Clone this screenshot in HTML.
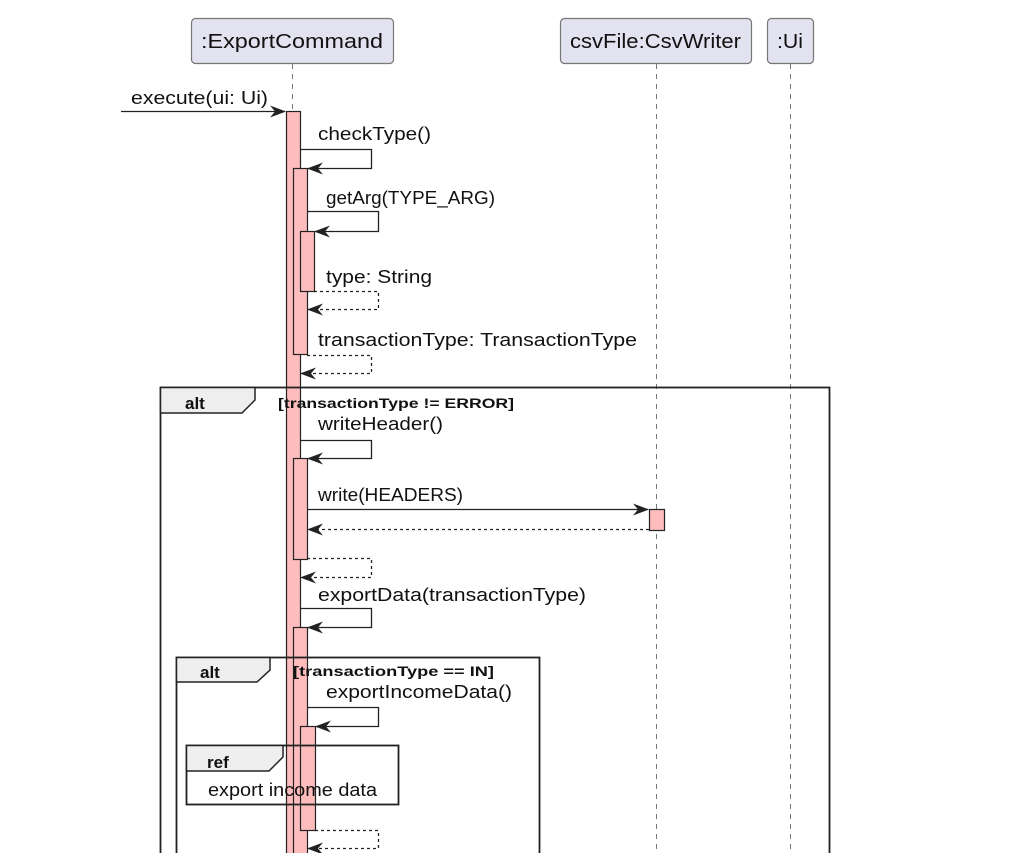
<!DOCTYPE html>
<html><head><meta charset="utf-8"><style>
html,body{margin:0;padding:0;background:#fff;}
svg{display:block;}
text{font-family:"Liberation Sans",Arial,sans-serif;fill:#111;}
.m{font-size:18px;}
.b{font-size:17px;font-weight:bold;}
.g{font-size:13.5px;font-weight:bold;}
</style></head><body>
<svg width="1009" height="853" viewBox="0 0 1009 853" xmlns="http://www.w3.org/2000/svg">
<defs>
<marker id="a" viewBox="0 0 16 12" refX="15" refY="6" markerWidth="16" markerHeight="12" markerUnits="userSpaceOnUse" orient="auto">
<path d="M0,0 L16,6 L0,12 L5,6 Z" fill="#222"/>
</marker>
</defs>
<rect x="191.5" y="18.5" width="202" height="45" rx="4" fill="#e2e2f0" stroke="#777" stroke-width="1.2"/>
<text x="201" y="48" class="m" style="font-size:20px" textLength="182" lengthAdjust="spacingAndGlyphs">:ExportCommand</text>
<rect x="560.5" y="18.5" width="191" height="45" rx="4" fill="#e2e2f0" stroke="#777" stroke-width="1.2"/>
<text x="570" y="48" class="m" style="font-size:20px" textLength="171" lengthAdjust="spacingAndGlyphs">csvFile:CsvWriter</text>
<rect x="767.5" y="18.5" width="46" height="45" rx="4" fill="#e2e2f0" stroke="#777" stroke-width="1.2"/>
<text x="777" y="48" class="m" style="font-size:20px" textLength="26" lengthAdjust="spacingAndGlyphs">:Ui</text>
<g stroke="#777" stroke-width="1" stroke-dasharray="5,5">
<line x1="292.5" y1="64" x2="292.5" y2="853"/>
<line x1="656.5" y1="64" x2="656.5" y2="853"/>
<line x1="790.5" y1="64" x2="790.5" y2="853"/>
</g>
<g fill="#ffbcbc" stroke="#222" stroke-width="1.2">
<rect x="286.5" y="111.5" width="14" height="745"/>
<rect x="293.5" y="168.5" width="14" height="186"/>
<rect x="300.5" y="231.5" width="14" height="60"/>
<rect x="293.5" y="458.5" width="14" height="101"/>
<rect x="649.5" y="509.5" width="15" height="21"/>
<rect x="293.5" y="627.5" width="14" height="230"/>
<rect x="300.5" y="726.5" width="15" height="104"/>
</g>
<g stroke="#222" stroke-width="1.3" fill="none">
<line x1="121" y1="111.5" x2="285" y2="111.5" marker-end="url(#a)"/>
<polyline points="300,149.5 371.5,149.5 371.5,168.5 308,168.5" marker-end="url(#a)"/>
<polyline points="307,211.5 378.5,211.5 378.5,231.5 315,231.5" marker-end="url(#a)"/>
<polyline points="314,291.5 378.5,291.5 378.5,309.5 308,309.5" stroke-dasharray="3,3" marker-end="url(#a)"/>
<polyline points="307,355.5 371.5,355.5 371.5,373.5 301,373.5" stroke-dasharray="3,3" marker-end="url(#a)"/>
<polyline points="300,440.5 371.5,440.5 371.5,458.5 308,458.5" marker-end="url(#a)"/>
<line x1="307" y1="509.5" x2="648" y2="509.5" marker-end="url(#a)"/>
<line x1="649" y1="529.5" x2="308" y2="529.5" stroke-dasharray="3,3" marker-end="url(#a)"/>
<polyline points="307,558.5 371.5,558.5 371.5,577.5 301,577.5" stroke-dasharray="3,3" marker-end="url(#a)"/>
<polyline points="300,608.5 371.5,608.5 371.5,627.5 308,627.5" marker-end="url(#a)"/>
<polyline points="307,707.5 378.5,707.5 378.5,726.5 316,726.5" marker-end="url(#a)"/>
<polyline points="315,830.5 378.5,830.5 378.5,848.5 308,848.5" stroke-dasharray="3,3" marker-end="url(#a)"/>
</g>
<text x="131" y="104" class="m" textLength="137" lengthAdjust="spacingAndGlyphs">execute(ui: Ui)</text>
<text x="318" y="140" class="m" textLength="113" lengthAdjust="spacingAndGlyphs">checkType()</text>
<text x="326" y="204" class="m" textLength="169" lengthAdjust="spacingAndGlyphs">getArg(TYPE_ARG)</text>
<text x="326" y="283" class="m" textLength="106" lengthAdjust="spacingAndGlyphs">type: String</text>
<text x="318" y="346" class="m" textLength="319" lengthAdjust="spacingAndGlyphs">transactionType: TransactionType</text>
<text x="318" y="430" class="m" textLength="125" lengthAdjust="spacingAndGlyphs">writeHeader()</text>
<text x="318" y="501" class="m" textLength="145" lengthAdjust="spacingAndGlyphs">write(HEADERS)</text>
<text x="318" y="601" class="m" textLength="268" lengthAdjust="spacingAndGlyphs">exportData(transactionType)</text>
<text x="326" y="698" class="m" textLength="186" lengthAdjust="spacingAndGlyphs">exportIncomeData()</text>
<rect x="160.5" y="387.5" width="669" height="480" fill="none" stroke="#222" stroke-width="1.8"/>
<path d="M160.5,387.5 H255 V400 L242,413 H160.5 Z" fill="#eee" stroke="#222" stroke-width="1.5"/>
<text x="185" y="409" class="b">alt</text>
<text x="278" y="408" class="g" textLength="236" lengthAdjust="spacingAndGlyphs">[transactionType != ERROR]</text>
<rect x="176.5" y="657.5" width="363" height="210" fill="none" stroke="#222" stroke-width="1.8"/>
<path d="M176.5,657.5 H270 V670 L257,682 H176.5 Z" fill="#eee" stroke="#222" stroke-width="1.5"/>
<text x="200" y="678" class="b">alt</text>
<text x="293" y="676" class="g" textLength="201" lengthAdjust="spacingAndGlyphs">[transactionType == IN]</text>
<rect x="186.5" y="745.5" width="212" height="59" fill="none" stroke="#222" stroke-width="1.8"/>
<path d="M186.5,745.5 H283 V757 L269,771 H186.5 Z" fill="#eee" stroke="#222" stroke-width="1.5"/>
<text x="207" y="768" class="b">ref</text>
<text x="208" y="796" class="m" textLength="169" lengthAdjust="spacingAndGlyphs">export income data</text>
</svg>
</body></html>
